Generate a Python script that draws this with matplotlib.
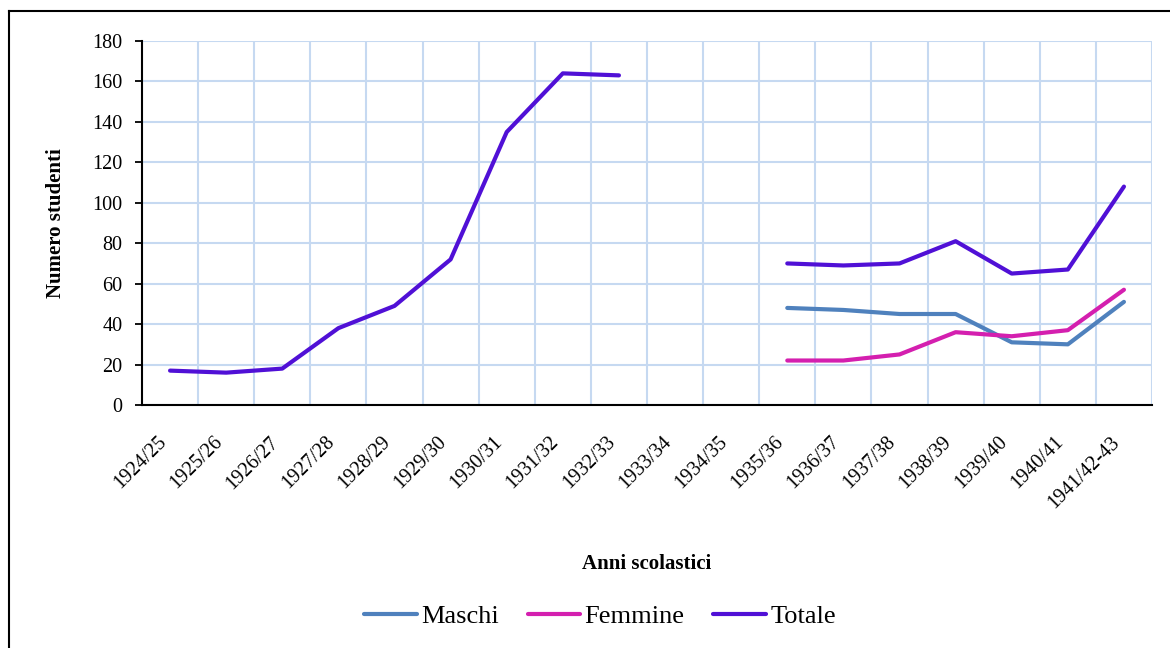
import numpy as np
import matplotlib
matplotlib.use("Agg")
import matplotlib.pyplot as plt
import matplotlib.transforms as mtransforms
from matplotlib.lines import Line2D

years = ["1924/25", "1925/26", "1926/27", "1927/28", "1928/29", "1929/30",
         "1930/31", "1931/32", "1932/33", "1933/34", "1934/35", "1935/36",
         "1936/37", "1937/38", "1938/39", "1939/40", "1940/41", "1941/42-43"]
nan = np.nan
maschi = [nan] * 11 + [48, 47, 45, 45, 31, 30, 51]
femmine = [nan] * 11 + [22, 22, 25, 36, 34, 37, 57]
totale = [17, 16, 18, 38, 49, 72, 135, 164, 163, nan, nan,
          70, 69, 70, 81, 65, 67, 108]

plt.rcParams["font.family"] = ["Liberation Serif", "DejaVu Serif"]

fig = plt.figure(figsize=(11.7, 6.48), dpi=100)
ax = fig.add_axes([142 / 1170, 1 - 405 / 648, 1010 / 1170, 364 / 648])

x = np.arange(len(years))
ax.plot(x, maschi, color="#4F81BD", lw=3, solid_capstyle="round", label="Maschi")
ax.plot(x, femmine, color="#D41FAF", lw=3, solid_capstyle="round", label="Femmine")
ax.plot(x, totale, color="#5010D6", lw=3, solid_capstyle="round", label="Totale")

ax.set_xlim(-0.5, len(years) - 0.5)
ax.set_ylim(0, 180)
ax.set_yticks(np.arange(0, 181, 20))
ax.set_xticks(x)
ax.set_xticklabels(years, rotation=45, ha="right")
ax.set_xticks(np.arange(0.5, len(years), 1), minor=True)

# nudge rotated labels a little to the right
offset = mtransforms.ScaledTranslation(4 / 100, 0, fig.dpi_scale_trans)
for lbl in ax.get_xticklabels():
    lbl.set_transform(lbl.get_transform() + offset)

ax.grid(True, axis="y", color="#C6D9F1", lw=1.5)
ax.grid(True, axis="x", which="minor", color="#C6D9F1", lw=1.5)
ax.set_axisbelow(True)

for s in ["top", "right"]:
    ax.spines[s].set_visible(False)
ax.spines["left"].set_linewidth(1.5)
ax.spines["bottom"].set_linewidth(1.5)

ax.tick_params(axis="x", which="both", length=0, pad=20, labelsize=14.5)
ax.tick_params(axis="y", length=5, width=1.3, pad=9, labelsize=14.5)

ax.set_xlabel("Anni scolastici", fontsize=15, fontweight="bold")
ax.xaxis.set_label_coords(0.5, -0.41)
ax.set_ylabel("Numero studenti", fontsize=15, fontweight="bold")
ax.yaxis.set_label_coords(-0.075, 0.5)

fig.legend(loc="center", bbox_to_anchor=(600 / 1170, 1 - 616 / 648), ncol=3,
           frameon=False, fontsize=19, handlelength=2.0, handletextpad=0.15,
           columnspacing=1.1)

# outer frame (left and top edges visible)
fig.add_artist(Line2D([9 / 1170, 9 / 1170], [0, 1 - 11 / 648], color="black", lw=1.5,
                      transform=fig.transFigure))
fig.add_artist(Line2D([9 / 1170, 1], [1 - 11 / 648, 1 - 11 / 648], color="black", lw=1.5,
                      transform=fig.transFigure))

fig.savefig("out.png", dpi=100)
